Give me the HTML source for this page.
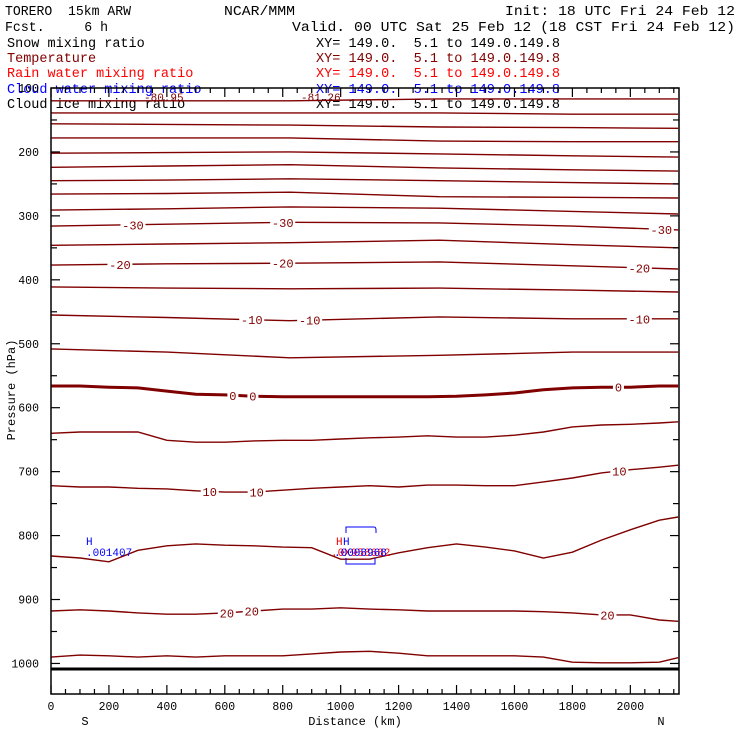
<!DOCTYPE html>
<html><head><meta charset="utf-8"><style>
html,body{margin:0;padding:0;background:#fff;}
svg{display:block;}
text{font-family:"Liberation Mono",monospace;}
</style></head><body>
<svg id="chart" width="740" height="740" viewBox="0 0 740 740">
<g id="header" font-size="13.5">
<text x="5" y="15" fill="#000" xml:space="preserve" textLength="126" lengthAdjust="spacingAndGlyphs">TORERO  15km ARW</text>
<text x="224" y="15" fill="#000" textLength="71" lengthAdjust="spacingAndGlyphs">NCAR/MMM</text>
<text x="505" y="15" fill="#000" textLength="230" lengthAdjust="spacingAndGlyphs">Init: 18 UTC Fri 24 Feb 12</text>
<text x="5" y="31" fill="#000" xml:space="preserve" textLength="103" lengthAdjust="spacingAndGlyphs">Fcst.     6 h</text>
<text x="292" y="31" fill="#000" textLength="443" lengthAdjust="spacingAndGlyphs">Valid. 00 UTC Sat 25 Feb 12 (18 CST Fri 24 Feb 12)</text>
<text x="7" y="47" fill="#000">Snow mixing ratio</text>
<text x="316" y="47" fill="#000" xml:space="preserve" textLength="244" lengthAdjust="spacingAndGlyphs">XY= 149.0.  5.1 to 149.0.149.8</text>
<text x="7" y="62" fill="#800000">Temperature</text>
<text x="316" y="62" fill="#800000" xml:space="preserve" textLength="244" lengthAdjust="spacingAndGlyphs">XY= 149.0.  5.1 to 149.0.149.8</text>
<text x="7" y="77" fill="#ff0000">Rain water mixing ratio</text>
<text x="316" y="77" fill="#ff0000" xml:space="preserve" textLength="244" lengthAdjust="spacingAndGlyphs">XY= 149.0.  5.1 to 149.0.149.8</text>
<text x="7" y="93" fill="#0000ff">Cloud water mixing ratio</text>
<text x="316" y="93" fill="#0000ff" xml:space="preserve" textLength="244" lengthAdjust="spacingAndGlyphs">XY= 149.0.  5.1 to 149.0.149.8</text>
<text x="7" y="108" fill="#000">Cloud ice mixing ratio</text>
<text x="316" y="108" fill="#000" xml:space="preserve" textLength="244" lengthAdjust="spacingAndGlyphs">XY= 149.0.  5.1 to 149.0.149.8</text>
</g>
<g id="contours"></g>
<g id="axes"></g>
<g id="extras" font-size="11">
<text x="144" y="101" fill="#800000">-80.95</text>
<text x="301" y="101" fill="#800000">-81.26</text>
<text x="86" y="545" fill="#0000ff">H</text>
<text x="86" y="556" fill="#0000ff">.001407</text>
<text x="336" y="545" fill="#ff0000">H</text>
<text x="343" y="545" fill="#0000ff">H</text>
<text x="331" y="556" fill="#ff0000">.0X958682</text>
<text x="334" y="556" fill="#0000ff">.0008968</text>
<path d="M346,533 V527 H374 Q376,527 376,530 V533" fill="none" stroke="#0000ff" stroke-width="1"/>
<path d="M346,558 V564 H375 V558" fill="none" stroke="#0000ff" stroke-width="1"/>
</g>
</svg>
<script>
const upperDist = [0, 400, 825, 1340, 1800, 2165];
const upperTemps = [-75,-70,-65,-60,-55,-50,-45,-40,-35,-30,-25,-20,-15,-10,-5];
const upperP = [
[120,120,120,117,117,117],
[139,139,139,139,141,141],
[156,157,158,161,162,163],
[178,178,178,183,184,184],
[202,201,200,203,206,208],
[224,222,220,225,228,230],
[245,244,242,245,248,250],
[266,265,263,270,271,272],
[291,289,286,288,293,297],
[316,313,310,311,316,322],
[346,344,342,338,345,350],
[377,375,374,372,378,383],
[411,413,414,413,416,419],
[455,459,464,458,461,461],
[508,513,522,518,513,513]
];
const lowerDist = [0,100,200,300,400,500,600,700,800,900,1000,1100,1200,1300,1400,1500,1600,1700,1800,1900,2000,2100,2165];
const lowerTemps = [0,5,10,15,20,25];
const lowerP = [
[566,566,568,569,574,579,580,582,583,583,583,583,583,583,582,580,577,572,569,568,568,566,566],
[640,638,638,638,651,654,654,652,651,651,649,647,646,644,646,646,643,638,630,627,626,624,622],
[722,724,724,726,727,730,732,732,729,726,724,722,724,721,721,722,722,716,710,702,697,693,690],
[832,835,841,823,816,813,815,816,818,819,837,837,827,819,813,818,824,835,826,807,791,776,771],
[918,916,918,921,923,923,921,918,915,915,913,915,916,918,918,918,918,919,921,924,924,932,934],
[990,987,988,990,988,990,988,988,988,985,982,981,984,988,988,988,988,990,998,999,999,998,991]
];
const labelTemps = [-30,-30,-30,-20,-20,-20,-10,-10,-10,0,0,0,10,10,10,20,20,20];
const labelDist = [283,800,2107,238,800,2031,693,893,2031,628,697,1959,548,710,1962,607,693,1921];
const yTicks = [100,200,300,400,500,600,700,800,900,1000];
const xTicks = [0,200,400,600,800,1000,1200,1400,1600,1800,2000];

const X0=51, X1=679, Y0=88, Y1=694, DMAX=2168;
const xs = d => X0 + d*(X1-X0)/DMAX;
const ys = p => Y0 + (p-100)*0.6394;
const NS='http://www.w3.org/2000/svg';
const cg=document.getElementById('contours'), ag=document.getElementById('axes');
function mk(tag,attrs,parent){const e=document.createElementNS(NS,tag);for(const k in attrs)e.setAttribute(k,attrs[k]);parent.appendChild(e);return e;}
function interp(dist,ps,d){for(let i=0;i<dist.length-1;i++){if(d<=dist[i+1]){const t=(d-dist[i])/(dist[i+1]-dist[i]);return ps[i]+t*(ps[i+1]-ps[i]);}}return ps[ps.length-1];}
const lines={};
upperTemps.forEach((t,i)=>{lines[t]={dist:upperDist,p:upperP[i]};});
lowerTemps.forEach((t,i)=>{lines[t]={dist:lowerDist,p:lowerP[i]};});
Object.keys(lines).forEach(k=>{
  const t=+k, L=lines[k];
  const pts=L.dist.map((d,j)=>xs(d).toFixed(1)+','+ys(L.p[j]).toFixed(1)).join(' ');
  const pl=mk('polyline',{points:pts,fill:'none',stroke:'#800000','stroke-width':t===0?3:1.4},cg);
  
  
});
labelTemps.forEach((t,i)=>{
  const L=lines[t], d=labelDist[i];
  const x=xs(d), y=ys(interp(L.dist,L.p,d));
  const txt=String(t), w=txt.length*7+4;
  const r=mk('rect',{x:x-w/2,y:y-6,width:w,height:12,fill:'#fff'},cg);
  
  
  const tx=mk('text',{x:x,y:y+4.5,'text-anchor':'middle','font-size':12,fill:'#800000'},cg);
  tx.textContent=txt;
  
  
});
const gl=mk('line',{x1:X0,y1:669,x2:X1,y2:669,stroke:'#000','stroke-width':3},ag);


const fr=mk('rect',{x:X0,y:Y0,width:X1-X0,height:Y1-Y0,fill:'none',stroke:'#000','stroke-width':1.5},ag);


for(let p=100;p<=1100;p+=50){
  const y=ys(p); if(y>Y1) break;
  const len=(p%100===0)?9:6;
  mk('line',{x1:X0,y1:y,x2:X0+len,y2:y,stroke:'#000','stroke-width':1.2},ag);
  mk('line',{x1:X1,y1:y,x2:X1-len,y2:y,stroke:'#000','stroke-width':1.2},ag);
}
yTicks.forEach(p=>{
  const t=mk('text',{x:39,y:ys(p)+4,'text-anchor':'end','font-size':11.5,fill:'#000'},ag);
  t.textContent=String(p);
  
  
});
for(let d=0;d<=DMAX;d+=50){
  const x=xs(d), len=(d%200===0)?9:5;
  mk('line',{x1:x,y1:Y1,x2:x,y2:Y1-len,stroke:'#000','stroke-width':1.2},ag);
  mk('line',{x1:x,y1:Y0,x2:x,y2:Y0+len,stroke:'#000','stroke-width':1.2},ag);
}
xTicks.forEach(d=>{
  const t=mk('text',{x:xs(d),y:710,'text-anchor':'middle','font-size':11.5,fill:'#000'},ag);
  t.textContent=String(d);
  
  
});
const xt=mk('text',{x:355,y:725,'text-anchor':'middle','font-size':12,fill:'#000'},ag);
xt.textContent='Distance (km)';


const s=mk('text',{x:85,y:725,'text-anchor':'middle','font-size':12,fill:'#000'},ag);
s.textContent='S';


const n=mk('text',{x:661,y:725,'text-anchor':'middle','font-size':12,fill:'#000'},ag);
n.textContent='N';


const yt=mk('text',{x:0,y:0,'text-anchor':'middle','font-size':12,fill:'#000',transform:'translate(15,390) rotate(-90)'},ag);
yt.textContent='Pressure (hPa)';


</script>
</body></html>
